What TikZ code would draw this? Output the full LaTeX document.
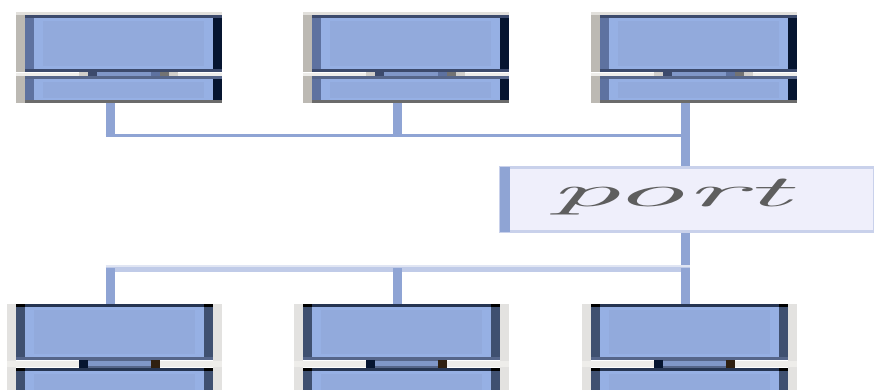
\documentclass[tikz,border=0pt]{standalone}
\usepackage{fontspec}
\definecolor{bodyblue}{HTML}{96B0E4}
\definecolor{bodyin}{HTML}{92AADC}
\definecolor{tstripL}{HTML}{5E72A0}
\definecolor{tstripR}{HTML}{061530}
\definecolor{tedge}{HTML}{3C4A6C}
\definecolor{tgray}{HTML}{BCB9B3}
\definecolor{tlight}{HTML}{E2E0DC}
\definecolor{bstrip}{HTML}{3F5070}
\definecolor{bedge}{HTML}{263552}
\definecolor{bgray}{HTML}{E3E2E0}
\definecolor{gaplight}{HTML}{EEEDEA}
\definecolor{hingebar}{HTML}{8097C8}
\definecolor{hingeedge}{HTML}{56668A}
\definecolor{conn}{HTML}{8FA4D4}
\definecolor{bus2c}{HTML}{C0CBE8}
\definecolor{bus2l}{HTML}{E0E5F3}
\definecolor{portfill}{HTML}{EFEFFB}
\definecolor{portedge}{HTML}{C9D1EB}
\definecolor{porttxt}{HTML}{5E5E5E}
\tikzset{
  devbody/.style={fill=bodyblue, draw=none, inner sep=0pt, outer sep=0pt, anchor=north west},
  vconn/.style={draw=conn, line width=9pt},
  busone/.style={draw=conn, line width=3pt},
  bustwo/.style={draw=bus2c, line width=5pt},
  portbox/.style={fill=portfill, draw=portedge, line width=3pt, inner sep=0pt,
    minimum width=374pt, minimum height=64pt},
  porttext/.style={text=porttxt, inner sep=0pt, anchor=base}
}
% top device: #1 name, #2 left x of body
\newcommand\TopDev[2]{%
  \fill[tgray] (#2-9,12) rectangle (#2,72);
  \fill[tgray] (#2-9,76) rectangle (#2,103);
  \fill[tlight] (#2-9,12) rectangle (#2+197,15);
  \fill[gaplight] (#2-9,73) rectangle (#2+197,76);
  \node[devbody, minimum width=197pt, minimum height=57pt] (#1u) at (#2,15) {};
  \fill[bodyin] (#2+18,21) rectangle (#2+179,66);
  \fill[tstripL] (#2,15) rectangle (#2+9,72);
  \fill[tstripR] (#2+188,15) rectangle (#2+197,72);
  \fill[tedge] (#2,15) rectangle (#2+197,18);
  \fill[tedge] (#2,69) rectangle (#2+197,72);
  \fill[tgray!70] (#2+54,72) rectangle (#2+153,76);
  \fill[hingebar] (#2+63,72) rectangle (#2+144,77);
  \fill[tedge] (#2+63,72) rectangle (#2+72,76);
  \fill[tstripL] (#2+126,72) rectangle (#2+135,77);
  \fill[black!55] (#2+135,72) rectangle (#2+144,76);
  \node[devbody, minimum width=197pt, minimum height=27pt] (#1l) at (#2,76) {};
  \fill[bodyin] (#2+18,82) rectangle (#2+179,98);
  \fill[tstripL] (#2,76) rectangle (#2+9,103);
  \fill[tstripR] (#2+188,76) rectangle (#2+197,103);
  \fill[hingeedge] (#2,76) rectangle (#2+197,79);
  \fill[black!58] (#2,100) rectangle (#2+197,103);
  \coordinate (#1c) at (#2+85,103);
}
% bottom device
\newcommand\BotDev[2]{%
  \fill[bgray] (#2-9,304) rectangle (#2,390);
  \fill[bgray] (#2+197,304) rectangle (#2+206,390);
  \fill[gaplight] (#2-9,361) rectangle (#2+206,367);
  \node[devbody, minimum width=197pt, minimum height=56pt] (#1u) at (#2,304) {};
  \fill[bodyin] (#2+18,310) rectangle (#2+179,354);
  \fill[bstrip] (#2,304) rectangle (#2+9,360);
  \fill[bstrip] (#2+188,304) rectangle (#2+197,360);
  \fill[bedge] (#2,304) rectangle (#2+197,307);
  \fill[hingeedge] (#2,357) rectangle (#2+197,360);
  \fill[black] (#2,304) rectangle (#2+9,307);
  \fill[black] (#2+188,304) rectangle (#2+197,307);
  \fill[hingeedge] (#2+63,360) rectangle (#2+144,368);
  \fill[hingebar] (#2+72,361) rectangle (#2+135,366);
  \fill[tstripR] (#2+63,360) rectangle (#2+72,368);
  \fill[black!75!brown] (#2+135,360) rectangle (#2+144,368);
  \node[devbody, minimum width=197pt, minimum height=22pt] (#1l) at (#2,368) {};
  \fill[bodyin] (#2+18,374) rectangle (#2+179,390);
  \fill[bstrip] (#2,368) rectangle (#2+9,390);
  \fill[bstrip] (#2+188,368) rectangle (#2+197,390);
  \fill[bedge] (#2,368) rectangle (#2+197,371);
  \fill[black] (#2,368) rectangle (#2+9,371);
  \fill[black] (#2+188,368) rectangle (#2+197,371);
  \coordinate (#1c) at (#2+94,304);
}
\begin{document}
\begin{tikzpicture}[x=1pt,y=-1pt]
\useasboundingbox (0,0) rectangle (874,390);
\fill[white] (0,0) rectangle (874,390);
\begin{scope}
\clip (0,0) rectangle (874,390);
\TopDev{ta}{25}
\TopDev{tb}{312}
\TopDev{tc}{600}
\BotDev{ba}{16}
\BotDev{bb}{303}
\BotDev{bc}{591}
\end{scope}
% port
\node[portbox] (port) at (687,199.5) {};
\fill[conn] (500,167) rectangle (510,232);
\node[porttext] (portlabel) at (669,206) {\scalebox{3.25}[1]{\fontsize{44}{44}\selectfont\itshape port}};
% buses
\coordinate (busA) at (0,135.5);
\coordinate (busB) at (0,269.5);
\draw[vconn] (tac) -- (tac |- busA);
\draw[vconn] (tbc) -- (tbc |- busA);
\draw[vconn] (tcc) -- (tcc |- port.north);
\draw[busone] ([xshift=-4.5pt]tac |- busA) -- ([xshift=4.5pt]tcc |- busA);
\draw[vconn] (tcc |- port.south) -- ([yshift=-1pt]tcc |- busB);
\draw[bus2l, line width=2pt] ([xshift=-4.5pt]bac |- 0,266) -- ([xshift=4.5pt]bcc |- 0,266);
\draw[bustwo] ([xshift=-4.5pt]bac |- busB) -- ([xshift=4.5pt]bcc |- busB);
\draw[vconn] (bac |- 0,268) -- (bac);
\draw[vconn] (bbc |- 0,268) -- (bbc);
\draw[vconn] (bcc |- 0,268) -- (bcc);
\end{tikzpicture}
\end{document}
